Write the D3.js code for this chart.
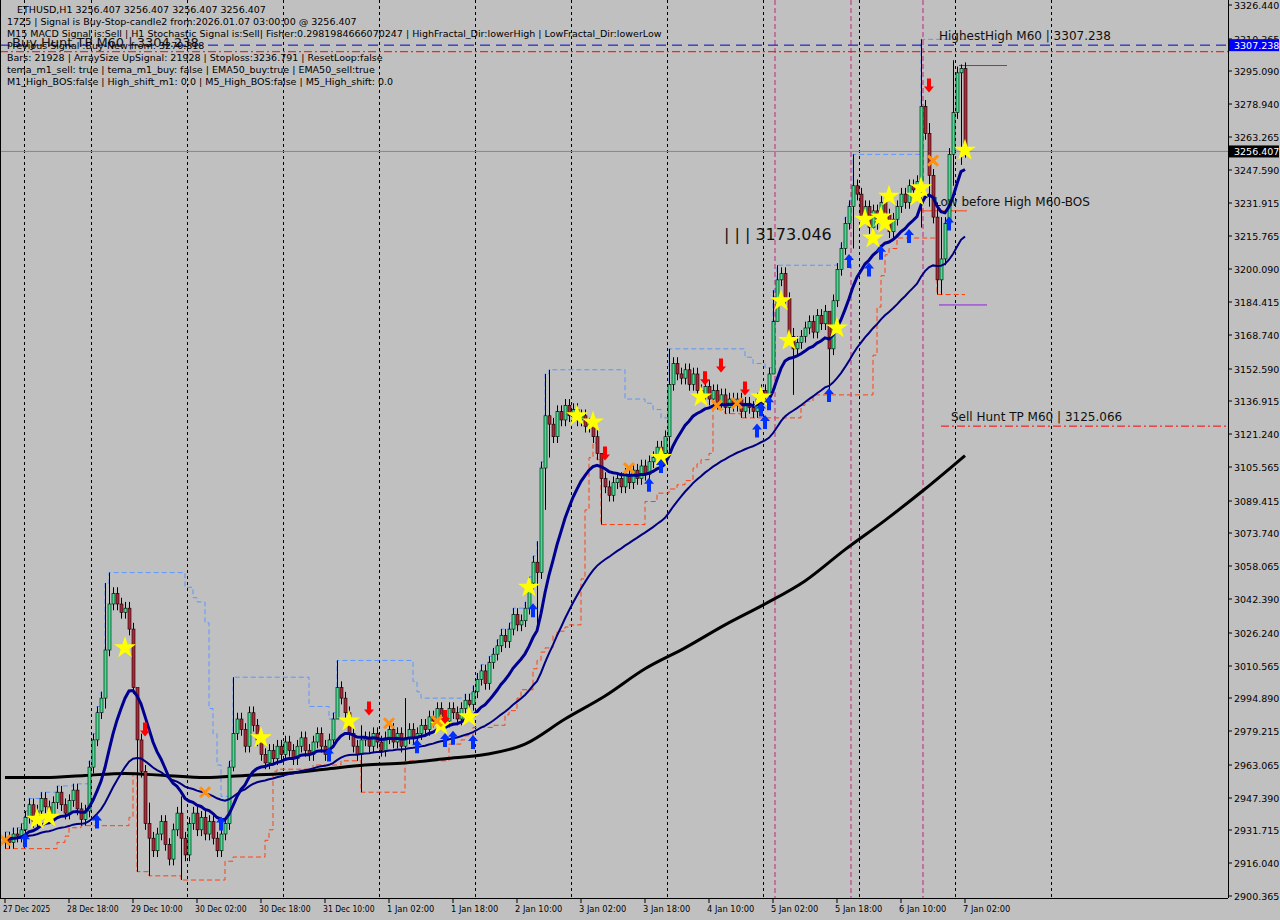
<!DOCTYPE html>
<html>
<head>
<meta charset="utf-8">
<script src="https://cdn.jsdelivr.net/npm/d3@7"></script>
<style>
body { margin:0; background:#c0c0c0; }
svg text { font-family: Tahoma, "DejaVu Sans", sans-serif; }
</style>
</head>
<body>
<svg id="chart" width="1280" height="920"></svg>
<script>
// closes per H1 bar, 27 Dec 2025 02:00 .. 7 Jan 2026 02:00
var closes = [2928,2926,2930,2929,2932,
2938,2944,2936,2941,2947,2943,2938,2945,2950,2944,2940,2946,2951,2942,2937,
2941,2962,2975,2988,2995, 3018,3040,3045, 3040,3036,3038,3028, 3000,2975,2960, 2935,2928,
2922,2930,2936,2925,2918,2932,2940,2928,2920,2935,2940,2932,2938,2930,2936,2928,
2922,2930,2935, 2962,2978, 2985,2980,2972,2988,2982,2975,
2968,2964,2970,2966,2972,2968,2974,2970,2966,2972,2976,2970,2968,2974,2978,2972,2968,2975,
2985,3000,2995,2988, 2978,2972,2968,2975,
2976,2972,2978,2974,2970,2976,2980,2974,2978,2972,2976,2980,2976,2978,
2982,2980,2986,2984,2990,2986,2984,2990,2988,2985,2990,2994,2992,
2998,3004,3008,3002,3012,3016, 3020,3025,3022,3028,3035,3030,
3032,3038,3050,3060,3055, 3105,3130,3126, 3120,3132,3128,3135,3130,3133,
3128,3130,3125,3126,3120,3112, 3100,3096,3092,
3098,3100,3096,3102,3098,3104,3100,3106,3102,3108, 3110,3115,3112,3120,
3145,3155,3150, 3148,3152,3145,3150,3142,
3140,3144,3138,3142,3136,3140,3134,3138,3135,3138,3132,3136,3134,
3132,3138,3142,3140,3150, 3175,3195,3198,3186, 3168,3162,3165,
3168,3172,3175,3170,3178,3174,3180, 3162,3185, 3200,3210,3222,3230, 3240,3236,
3225,3230,3220,3228,3222,3232,3226,3218,3224, 3230,3236,3232,3240,3238,3242,
3278, 3265,3245,3225, 3195,3205, 3222,3255,3275, 3294,3296,3256.407];

// notable wicks: [bar, high, low]
var spikes = [[25,3050,2990],[26,3055,3015],[33,2990,2912],[36,2945,2910],[44,2948,2908],[57,3005,2960],
[83,3013,2985],[89,2982,2950],[100,2995,2965],[133,3070,3030],[135,3150,3085],[136,3152,3110],
[149,3112,3078],[166,3162,3112],[192,3190,3150],[193,3202,3180],[197,3172,3140],[206,3175,3140],
[212,3255,3210],[229,3310,3220],[231,3270,3230],[233,3232,3188],[234,3225,3188],[237,3300,3240],[239,3298,3250]];

// slow moving average, every 10 bars
var maSlow = [2957,2957,2958,2959,2958,2957,2958,2959,2961,2963,2964,2966,2968,2973,2985,2996,3009,3019,3030,3040,3051,3066,3080,3095,3111];

var stars = [[8,2937],[11,2938],[30,3019],[64,2976],[86,2984],[109,2982],[116,2986],[131,3048],[143,3130],[147,3127],
[164,3110],[174,3139],[189,3139],[194,3185],[196,3166],[208,3172],[215,3224],[217,3215],[219,3225],[220,3222],
[221,3235],[228,3235],[229,3239],[240,3257]];
var upArrows = [[5,2927],[23,2936],[54,2935],[81,2968],[103,2972],[110,2975],[112,2976],[117,2974],[132,3037],
[161,3097],[164,3106],[188,3123],[189,3133],[190,3127],[191,3136],[206,3140],[211,3204],[216,3200],[219,3208],[226,3216],[236,3222]];
var downArrows = [[35,2980],[91,2990],[110,2986],[150,3112],[175,3148],[179,3154],[185,3143],[231,3288]];
var crosses = [[0,2927],[50,2950],[96,2983],[108,2984],[156,3105],[178,3135],[183,3136],[232,3252]];

var priceTicks = [3326.440,3310.365,3295.090,3278.940,3263.265,3247.590,3231.915,3215.765,3200.090,3184.415,3168.740,
3152.590,3136.915,3121.240,3105.565,3089.415,3073.740,3058.065,3042.390,3026.240,3010.565,2994.890,2979.215,
2963.065,2947.390,2931.715,2916.040,2900.365];
var timeLabels = ["27 Dec 2025","28 Dec 18:00","29 Dec 10:00","30 Dec 02:00","30 Dec 18:00","31 Dec 10:00","1 Jan 02:00",
"1 Jan 18:00","2 Jan 10:00","3 Jan 02:00","3 Jan 18:00","4 Jan 10:00","5 Jan 02:00","5 Jan 18:00","6 Jan 10:00","7 Jan 02:00"];
var separators = [4.75,21.5,45.5,69.5,93.5,117.5,141.5,165.5,189.5,213.5,237.5,261.5];
var infoLines = ["ETHUSD,H1  3256.407 3256.407 3256.407 3256.407",
"1725 | Signal is Buy-Stop-candle2 from:2026.01.07 03:00:00 @ 3256.407",
"M15 MACD Signal is:Sell | H1 Stochastic Signal is:Sell| Fisher:0.2981984666070247 | HighFractal_Dir:lowerHigh | LowFractal_Dir:lowerLow",
"Previous Signal :Buy-New from: 3270.818",
"Bars: 21928 | ArraySize UpSignal: 21928 | Stoploss:3236.791 | ResetLoop:false",
"tema_m1_sell: true | tema_m1_buy: false | EMA50_buy:true | EMA50_sell:true",
"M1_High_BOS:false | High_shift_m1: 0.0 | M5_High_BOS:false | M5_High_shift: 0.0"];

var svg = d3.select("#chart");
var plotR = 1228, plotB = 898;
var x = d3.scaleLinear().domain([0,240]).range([5,965]);
var y = d3.scaleLinear().domain([2900.365,3326.440]).range([896,5]);

var bars = closes.map(function(c,i){
  var o = i ? closes[i-1] : 2926;
  var hi = Math.max(o,c)+3, lo = Math.min(o,c)-3;
  return {i:i,o:o,c:c,h:hi,l:lo};
});
spikes.forEach(function(s){ bars[s[0]].h = s[1]; bars[s[0]].l = s[2]; });

function ema(arr,n){ var k=2/(n+1), out=[], v=arr[0]; arr.forEach(function(a){ v=a*k+v*(1-k); out.push(v); }); return out; }
var emaFast = ema(closes,18), emaMid = ema(closes,50);
var donHi = bars.map(function(b,i){ return d3.max(bars.slice(Math.max(0,i-18),i+1),function(d){return d.h;}); });
var donLo = bars.map(function(b,i){ return d3.min(bars.slice(Math.max(0,i-10),i+1),function(d){return d.l;}); });

svg.append("rect").attr("width",1280).attr("height",920).attr("fill","#c0c0c0");
var g = svg.append("g");

// separators
g.selectAll(".sep").data(separators).enter().append("line")
  .attr("x1",function(d){return Math.round(x(d))+0.5;}).attr("x2",function(d){return Math.round(x(d))+0.5;})
  .attr("y1",0).attr("y2",plotB).attr("stroke","#000").attr("stroke-dasharray","3,3");
[192.5,211.5,229.5].forEach(function(v){
  g.append("line").attr("x1",x(v)).attr("x2",x(v)).attr("y1",0).attr("y2",plotB)
    .attr("stroke","#c0287a").attr("stroke-dasharray","5,3");
});

// channels
var step = d3.line().x(function(d,i){return x(i);}).y(function(d){return y(d);}).curve(d3.curveStepAfter);
g.append("path").attr("d",step(donHi)).attr("fill","none").attr("stroke","#5a96ff").attr("stroke-dasharray","5,3");
g.append("path").attr("d",step(donLo)).attr("fill","none").attr("stroke","#ff4010").attr("stroke-dasharray","5,3");

// horizontal levels
g.append("line").attr("x1",0).attr("x2",plotR).attr("y1",y(3256.407)).attr("y2",y(3256.407)).attr("stroke","#808890");
g.append("line").attr("x1",0).attr("x2",plotR).attr("y1",y(3307.238)).attr("y2",y(3307.238))
  .attr("stroke","#0000d0").attr("stroke-dasharray","10,6");
g.append("line").attr("x1",0).attr("x2",plotR).attr("y1",y(3304.1)).attr("y2",y(3304.1))
  .attr("stroke","#ff0000").attr("stroke-dasharray","8,3,2,3");
g.append("line").attr("x1",x(234)).attr("x2",plotR).attr("y1",y(3125.066)).attr("y2",y(3125.066))
  .attr("stroke","#ff0000").attr("stroke-dasharray","8,3,2,3");
g.append("line").attr("x1",x(238.5)).attr("x2",x(250.5)).attr("y1",y(3297.5)).attr("y2",y(3297.5)).attr("stroke","#d02040");
g.append("line").attr("x1",x(233.5)).attr("x2",x(245.5)).attr("y1",y(3183)).attr("y2",y(3183)).attr("stroke","#9020e0");
g.append("line").attr("x1",x(228.5)).attr("x2",x(240.5)).attr("y1",y(3228)).attr("y2",y(3228)).attr("stroke","#ff4010");

// slow MA
var line = d3.line().x(function(d,i){return x(i);}).y(function(d){return y(d);});
g.append("path").attr("d",d3.line().x(function(d,i){return x(i*10);}).y(function(d){return y(d);}).curve(d3.curveMonotoneX)(maSlow))
  .attr("fill","none").attr("stroke","#000").attr("stroke-width",3);

// candles
var cg = g.selectAll(".bar").data(bars).enter().append("g");
cg.append("line").attr("x1",function(d){return Math.round(x(d.i))+0.5;}).attr("x2",function(d){return Math.round(x(d.i))+0.5;})
  .attr("y1",function(d){return y(d.h);}).attr("y2",function(d){return y(d.l);}).attr("stroke","#000");
cg.append("rect").attr("x",function(d){return Math.round(x(d.i))-1;}).attr("width",3)
  .attr("y",function(d){return y(Math.max(d.o,d.c));})
  .attr("height",function(d){return Math.max(1,Math.abs(y(d.o)-y(d.c)));})
  .attr("fill",function(d){return d.c>=d.o?"#40e090":"#b02838";}).attr("stroke","#000").attr("stroke-width",0.6);

// fast averages
g.append("path").attr("d",line(emaMid)).attr("fill","none").attr("stroke","#000080").attr("stroke-width",2);
g.append("path").attr("d",line(emaFast)).attr("fill","none").attr("stroke","#000090").attr("stroke-width",3);

// markers
var star = d3.symbol().type(d3.symbolStar).size(150);
g.selectAll(".star").data(stars).enter().append("path").attr("d",star)
  .attr("transform",function(d){return "translate("+x(d[0])+","+y(d[1])+")";}).attr("fill","#ffff00");
function arrow(up){ return up ? "M0,-7 L5,-1 L2,-1 L2,7 L-2,7 L-2,-1 L-5,-1Z" : "M0,7 L5,1 L2,1 L2,-7 L-2,-7 L-2,1 L-5,1Z"; }
g.selectAll(".up").data(upArrows).enter().append("path").attr("d",arrow(true))
  .attr("transform",function(d){return "translate("+x(d[0])+","+y(d[1])+")";}).attr("fill","#0030ff");
g.selectAll(".dn").data(downArrows).enter().append("path").attr("d",arrow(false))
  .attr("transform",function(d){return "translate("+x(d[0])+","+y(d[1])+")";}).attr("fill","#ff0000");
g.selectAll(".cx").data(crosses).enter().append("path").attr("d","M-5,-5L5,5M5,-5L-5,5")
  .attr("transform",function(d){return "translate("+x(d[0])+","+y(d[1])+")";}).attr("stroke","#ff9010").attr("stroke-width",3);

// chart texts
g.append("text").attr("x",939).attr("y",40).attr("font-size",12).attr("fill","#101010").text("HighestHigh   M60 | 3307.238");
g.append("text").attr("x",934).attr("y",206).attr("font-size",12).attr("fill","#101010").text("Low before High   M60-BOS");
g.append("text").attr("x",951).attr("y",421).attr("font-size",12).attr("fill","#101010").text("Sell Hunt TP M60 | 3125.066");
g.append("text").attr("x",724).attr("y",240).attr("font-size",16).attr("fill","#101010").text("| | | 3173.046");
g.append("text").attr("x",12).attr("y",47).attr("font-size",13).attr("fill","#101010").text("Buy Hunt TP M60 | 3304.238");
infoLines.forEach(function(t,k){
  g.append("text").attr("x",k?7:17).attr("y",13+k*12).attr("font-size",9.5).attr("fill","#000").text(t);
});

// axes frame
svg.append("line").attr("x1",plotR+0.5).attr("x2",plotR+0.5).attr("y1",0).attr("y2",plotB).attr("stroke","#000");
svg.append("line").attr("x1",0).attr("x2",plotR).attr("y1",plotB+0.5).attr("y2",plotB+0.5).attr("stroke","#000");
svg.append("line").attr("x1",0.5).attr("x2",0.5).attr("y1",0).attr("y2",plotB).attr("stroke","#000");
var ya = svg.selectAll(".yt").data(priceTicks).enter().append("g")
  .attr("transform",function(d){return "translate("+plotR+","+Math.round(y(d))+")";});
ya.append("line").attr("x2",4).attr("stroke","#000");
ya.append("text").attr("x",6).attr("y",4).attr("font-size",9.5).attr("fill","#000").text(function(d){return d.toFixed(3);});
[[3307.238,"#0000ff","3307.238"],[3256.407,"#000","3256.407"]].forEach(function(p){
  svg.append("rect").attr("x",plotR+1).attr("y",y(p[0])-6).attr("width",50).attr("height",12).attr("fill",p[1]);
  svg.append("text").attr("x",plotR+6).attr("y",y(p[0])+4).attr("font-size",9.5).attr("fill","#fff").text(p[2]);
});
var xa = svg.selectAll(".xt").data(timeLabels).enter().append("g")
  .attr("transform",function(d,i){return "translate("+Math.round(x(i*16))+","+plotB+")";});
xa.append("line").attr("y2",5).attr("stroke","#000");
xa.append("text").attr("x",-2).attr("y",14).attr("font-size",9).attr("fill","#000")
  .attr("textLength",function(d){return d.length*4.3;}).attr("lengthAdjust","spacingAndGlyphs").text(function(d){return d;});
</script>
</body>
</html>
